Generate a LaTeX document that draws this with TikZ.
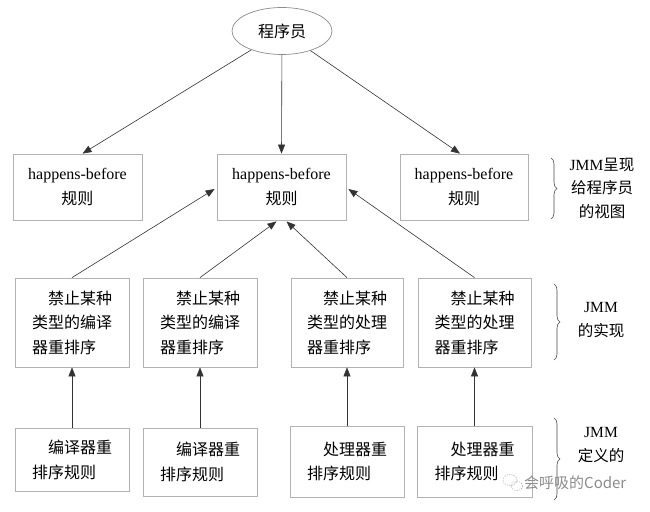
\documentclass[tikz,border=0pt]{standalone}
\usepackage{fontspec}
\setmainfont{Liberation Serif}
\newfontfamily\cjk{Noto Sans CJK SC}
\usetikzlibrary{arrows.meta,calc,decorations.pathreplacing,shapes.geometric}
\begin{document}
\begin{tikzpicture}[x=1pt,y=-1pt,
  box/.style={draw=black!30,line width=0.8pt,minimum width=#1,inner sep=0pt,
    font=\fontsize{16}{24.5}\selectfont},
  box/.default=129pt,
  ctr/.style={align=center},
  lft/.style={align=left},
  arr/.style={draw=black!80,line width=0.6pt,-{Triangle[length=9pt,width=7pt]}},
  brc/.style={draw=black!70,line width=0.6pt,decorate,decoration={brace,amplitude=6pt}},
  lbl/.style={align=center,font=\fontsize{15.5}{23.5}\selectfont},
]
\useasboundingbox (0,0) rectangle (650,511);
\fill[white] (0,0) rectangle (650,511);

% programmer
\node[draw=black!45,line width=0.7pt,ellipse,minimum width=100pt,minimum height=47pt,inner sep=0pt,
  font=\fontsize{16}{20}\selectfont\cjk] (prog) at (282,31) {程序员};

% top row
\node[box=129pt,minimum height=66pt,ctr] (hb1) at (77.5,187) {happens-before\\{\cjk 规则}};
\node[box=129pt,minimum height=66pt,ctr] (hb2) at (281.5,187) {happens-before\\{\cjk 规则}};
\node[box=128pt,minimum height=66pt,ctr] (hb3) at (464,187) {happens-before\\{\cjk 规则}};

% middle row
\node[box=114pt,minimum height=89pt,lft] (m1) at (72,322.5) {\cjk\hspace{1em}禁止某种\\\cjk 类型的编译\\\cjk 器重排序};
\node[box=114pt,minimum height=89pt,lft] (m2) at (200,322.5) {\cjk\hspace{1em}禁止某种\\\cjk 类型的编译\\\cjk 器重排序};
\node[box=112pt,minimum height=89pt,lft] (m3) at (347,322.5) {\cjk\hspace{1em}禁止某种\\\cjk 类型的处理\\\cjk 器重排序};
\node[box=113pt,minimum height=89pt,lft] (m4) at (474.5,322.5) {\cjk\hspace{1em}禁止某种\\\cjk 类型的处理\\\cjk 器重排序};

% bottom row
\node[box=114pt,minimum height=63pt,lft] (b1) at (72,460) {\cjk\hspace{1em}编译器重\\\cjk 排序规则};
\node[box=114pt,minimum height=68pt,lft] (b2) at (200,462) {\cjk\hspace{1em}编译器重\\\cjk 排序规则};
\node[box=114pt,minimum height=71pt,lft] (b3) at (347,461.5) {\cjk\hspace{1em}处理器重\\\cjk 排序规则};
\node[box=115pt,minimum height=71pt,lft] (b4) at (474.5,461.5) {\cjk\hspace{1em}处理器重\\\cjk 排序规则};

% arrows from programmer
\draw[arr] (prog) -- ($(hb1.north)+(5,0)$);
\draw[arr] (prog) -- (hb2.north);
\draw[arr] (prog) -- ($(hb3.north)+(-4,0)$);

% arrows middle -> top
\draw[arr] (m1.north) -- ($(hb2.west)+(-2,2)$);
\draw[arr] (m2.north) -- ($(hb2.south)+(-5,1)$);
\draw[arr] (m3.north) -- ($(hb2.south)+(5,1)$);
\draw[arr] (m4.north) -- ($(hb2.east)+(2,2)$);

% arrows bottom -> middle
\draw[arr] (b1.north) -- (m1.south);
\draw[arr] (b2.north) -- (m2.south);
\draw[arr] (b3.north) -- (m3.south);
\draw[arr] (b4.north) -- (m4.south);

% braces and labels
\coordinate (br1t) at (551,158);
\coordinate (br1b) at (551,219);
\draw[brc] (br1t) -- (br1b);
\node[lbl] (l1) at (602,188) {JMM{\cjk 呈现}\\{\cjk 给程序员}\\{\cjk 的视图}};

\coordinate (br2t) at (554,284);
\coordinate (br2b) at (554,360);
\draw[brc] (br2t) -- (br2b);
\node[lbl] (l2) at (601,320) {JMM\\{\cjk 的实现}};

\coordinate (br3t) at (554,418);
\coordinate (br3b) at (554,500);
\draw[brc] (br3t) -- (br3b);
\node[lbl] (l3) at (601,445) {JMM\\{\cjk 定义的}};

% watermark
\draw[black!35,line width=0.5pt,dash pattern=on 1.2pt off 1.2pt] (510,480) circle[x radius=7pt,y radius=5.5pt];
\draw[black!35,line width=0.5pt,dash pattern=on 1.2pt off 1.2pt] (517,486) circle[x radius=6pt,y radius=4.5pt];
\node[anchor=west,inner sep=0pt,text=black!45,font=\fontsize{15}{18}\selectfont\cjk] (wm) at (524,483) {会呼吸的Coder};
\end{tikzpicture}
\end{document}
